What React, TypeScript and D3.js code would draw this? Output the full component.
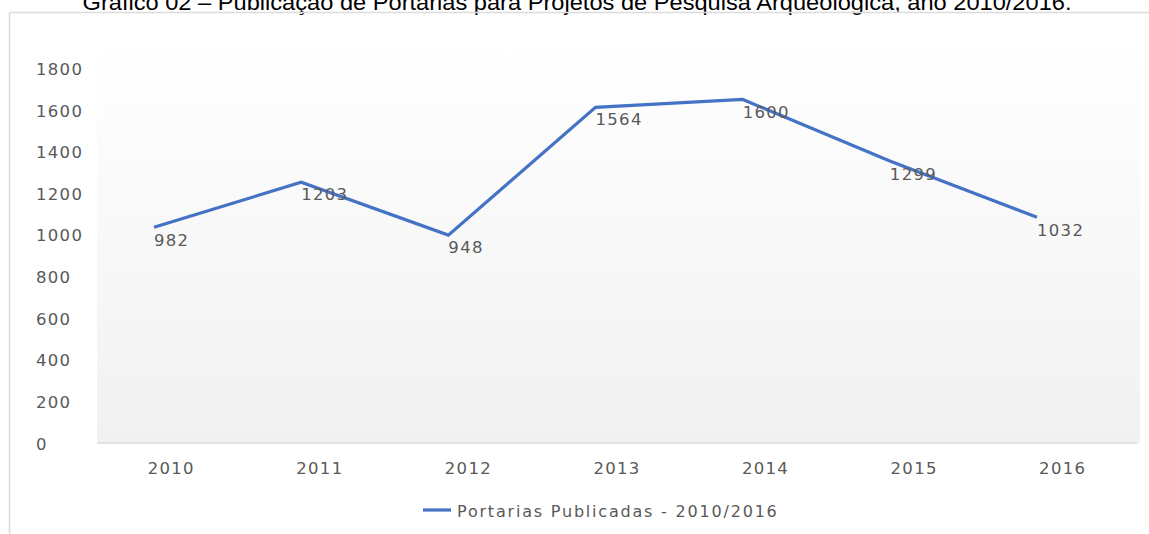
import * as d3 from "d3";

const TITLE = "Gráfico 02 – Publicação de Portarias para Projetos de Pesquisa Arqueológica, ano 2010/2016.";
const YEARS = ["2010", "2011", "2012", "2013", "2014", "2015", "2016"];
// printed data labels
const LABELS = [982, 1203, 948, 1564, 1600, 1299, 1032];
// where the line is actually drawn in the picture (sits a bit above its labels)
const LINE_VALUES = [1042, 1258, 1004, 1618, 1656, 1360, 1090];
const Y_TICKS = [0, 200, 400, 600, 800, 1000, 1200, 1400, 1600, 1800];
const SERIES = "Portarias Publicadas - 2010/2016";

const W = 1149;
const H = 534;
const BLUE = "#4472c4";
const GREY = "#595959";
const FONT = "'DejaVu Sans', Verdana, sans-serif";

export default function App() {
  const plotL = 97, plotR = 1137, plotT = 40, plotB = 444;

  const x = d3.scaleBand().domain(YEARS).range([plotL, plotR]);
  const y = d3.scaleLinear().domain([0, 1800]).range([plotB, 69.5]);
  // the series is drawn slightly offset to the left of the category centres
  const xs = d3.scalePoint().domain(YEARS).range([154, 1037]);

  const line = d3.line<number>()
    .x((_, i) => xs(YEARS[i])!)
    .y(d => y(d));

  return (
    <svg width={W} height={H} style={{ position: "absolute", left: 0, top: 0, background: "#fff" }}>
      <defs>
        <linearGradient id="bg" x1="0" y1="0" x2="0" y2="1">
          <stop offset="0%" stopColor="#ffffff" />
          <stop offset="100%" stopColor="#f1f1f1" />
        </linearGradient>
      </defs>

      {/* title, cut at the top */}
      <text x={577} y={10} textAnchor="middle" fontFamily="'Liberation Sans', Arial, sans-serif"
        fontSize={22} fill="#000" textLength={989} lengthAdjust="spacingAndGlyphs">{TITLE}</text>

      {/* outer frame */}
      <line x1={9.5} x2={W} y1={12.5} y2={12.5} stroke="#dcdcdc" strokeWidth={1.5} />
      <line x1={9.5} x2={9.5} y1={12.5} y2={H} stroke="#dcdcdc" strokeWidth={1.5} />

      {/* plot background */}
      <rect x={plotL} y={plotT} width={plotR + 3 - plotL} height={plotB - plotT - 1} fill="url(#bg)" />
      <line x1={plotL} x2={plotR} y1={plotB - 1} y2={plotB - 1} stroke="#d9d9d9" strokeWidth={1.5} />

      {/* y axis labels */}
      {Y_TICKS.map(t => (
        <text key={t} x={36} y={y(t)} dominantBaseline="central" fontFamily={FONT} fontSize={16.5}
          letterSpacing={1.3} fill={GREY}>{t}</text>
      ))}

      {/* x axis labels */}
      {YEARS.map(yr => (
        <text key={yr} x={x(yr)! + x.bandwidth() / 2} y={468} textAnchor="middle" dominantBaseline="central"
          fontFamily={FONT} fontSize={16.5} letterSpacing={1.3} fill={GREY}>{yr}</text>
      ))}

      {/* series */}
      <path d={line(LINE_VALUES)!} fill="none" stroke={BLUE} strokeWidth={3.2} strokeLinejoin="miter" />

      {/* data labels */}
      {LABELS.map((v, i) => (
        <text key={i} x={xs(YEARS[i])!} y={y(v) + 1} dominantBaseline="central" fontFamily={FONT}
          fontSize={16.5} letterSpacing={1.3} fill={GREY}>{v}</text>
      ))}

      {/* legend */}
      <line x1={423} x2={451} y1={510} y2={510} stroke={BLUE} strokeWidth={3.2} />
      <text x={457} y={511} dominantBaseline="central" fontFamily={FONT} fontSize={16}
        letterSpacing={1.8} fill={GREY}>{SERIES}</text>
    </svg>
  );
}
